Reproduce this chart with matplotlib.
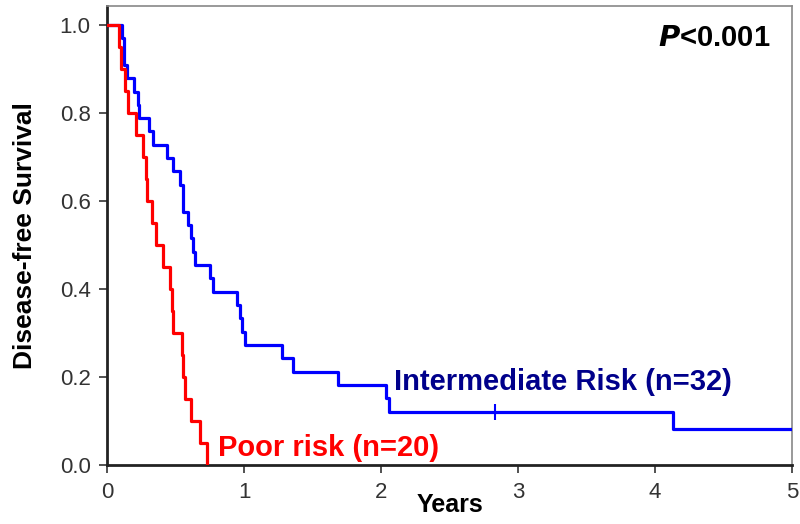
import numpy as np
import matplotlib
matplotlib.use("Agg")
import matplotlib.pyplot as plt

plt.rcParams['font.family'] = ['Liberation Sans', 'DejaVu Sans']

# Kaplan-Meier steps
t_inter = [0, 0.107, 0.126, 0.143, 0.197, 0.224, 0.234, 0.307, 0.338, 0.436, 0.477,
           0.533, 0.55, 0.557, 0.593, 0.611, 0.626, 0.642, 0.747, 0.776, 0.947,
           0.966, 0.983, 1.007, 1.275, 1.36, 1.684, 2.034, 2.06, 4.134, 5.0]
s_inter = [1.0, 0.970, 0.909, 0.879, 0.848, 0.818, 0.788, 0.758, 0.727, 0.697, 0.667,
           0.636, 0.606, 0.576, 0.545, 0.515, 0.485, 0.455, 0.424, 0.394, 0.364,
           0.333, 0.303, 0.273, 0.242, 0.212, 0.182, 0.152, 0.121, 0.081, 0.081]
cens_inter_t = [2.832]
cens_inter_s = [0.121]

t_poor = [0, 0.083, 0.1, 0.131, 0.151, 0.212, 0.265, 0.282, 0.294, 0.326, 0.358,
          0.411, 0.455, 0.472, 0.48, 0.545, 0.557, 0.569, 0.611, 0.674, 0.728]
s_poor = [1.0, 0.95, 0.90, 0.85, 0.80, 0.75, 0.70, 0.65, 0.60, 0.55, 0.50,
          0.45, 0.40, 0.35, 0.30, 0.25, 0.20, 0.15, 0.10, 0.05, 0.0]

xticks = [0, 1, 2, 3, 4, 5]
yticks = [0.0, 0.2, 0.4, 0.6, 0.8, 1.0]

fig = plt.figure(figsize=(8, 5.24), dpi=100)
ax = fig.add_axes([0.134, 0.1126, 0.856, 0.876])

ax.step(t_inter, s_inter, where='post', color='#0000ff', lw=2.3, zorder=3)
ax.plot(cens_inter_t, cens_inter_s, '|', color='#0000ff', ms=12, mew=1.5, zorder=3)
ax.step(t_poor, s_poor, where='post', color='#ff0000', lw=2.3, zorder=4)

ax.set_xlim(0, 5)
ax.set_ylim(0, 1.043)
ax.set_xticks(xticks)
ax.set_yticks(yticks)
ax.set_xticklabels([str(x) for x in xticks])
ax.set_yticklabels(['%.1f' % y for y in yticks])
ax.tick_params(direction='out', length=6, width=1.2, labelsize=16,
               labelcolor='#333333', color='#333333', pad=6)

ax.spines['left'].set_linewidth(2)
ax.spines['bottom'].set_linewidth(2)
ax.spines['left'].set_color('#222222')
ax.spines['bottom'].set_color('#222222')
for s in ['top', 'right']:
    ax.spines[s].set_color('#888888')
    ax.spines[s].set_linewidth(1.2)

ax.set_ylabel('Disease-free Survival', fontsize=19, fontweight='bold', va='center')
ax.yaxis.set_label_coords(-0.1195, 0.5)
ax.set_xlabel('Years', fontsize=18, fontweight='bold', va='center')
ax.xaxis.set_label_coords(0.5, -0.087)

ax.text(4.84, 0.97, r'$\mathbfit{P}$<0.001', fontsize=21, fontweight='bold',
        ha='right', va='center')
ax.text(2.095, 0.189, 'Intermediate Risk (n=32)', fontsize=21, fontweight='bold',
        color='#00008b', ha='left', va='center')
ax.text(0.81, 0.039, 'Poor risk (n=20)', fontsize=21, fontweight='bold',
        color='#ff0000', ha='left', va='center')

fig.savefig('out.png', dpi=100)
